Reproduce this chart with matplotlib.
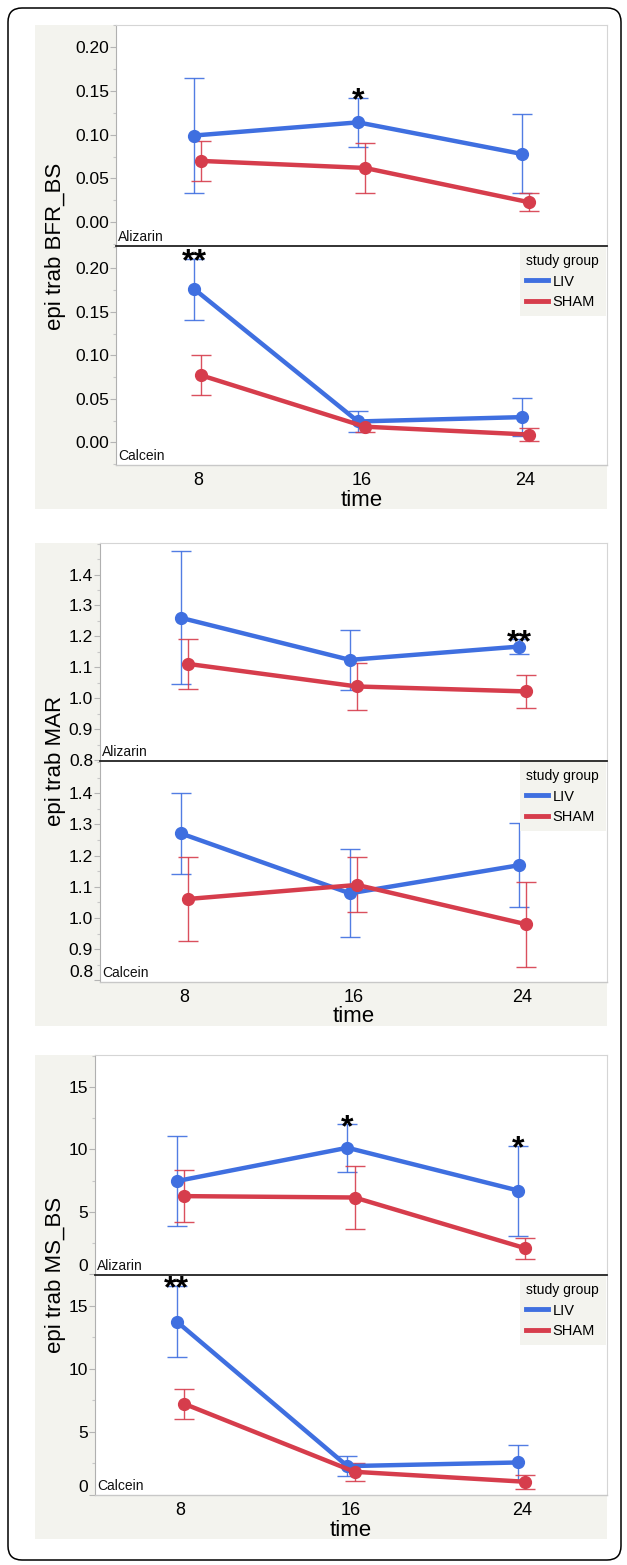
import matplotlib
matplotlib.use('Agg')
import matplotlib.pyplot as plt
from matplotlib.patches import FancyBboxPatch, Rectangle
from matplotlib.lines import Line2D
from matplotlib.ticker import MultipleLocator, FormatStrFormatter

plt.rcParams['font.family'] = ['Liberation Sans', 'DejaVu Sans']

# ---------------- data ----------------
times = [8, 16, 24]
groups = ['LIV', 'SHAM']

bfr_aliz_liv = [0.099, 0.114, 0.078]
bfr_aliz_liv_err = [0.065, 0.028, 0.045]
bfr_aliz_sham = [0.070, 0.062, 0.023]
bfr_aliz_sham_err = [0.023, 0.028, 0.0105]
bfr_calc_liv = [0.176, 0.024, 0.029]
bfr_calc_liv_err = [0.035, 0.012, 0.022]
bfr_calc_sham = [0.077, 0.018, 0.009]
bfr_calc_sham_err = [0.023, 0.0065, 0.008]

mar_aliz_liv = [1.260, 1.124, 1.167]
mar_aliz_liv_err = [0.215, 0.097, 0.024]
mar_aliz_sham = [1.111, 1.038, 1.022]
mar_aliz_sham_err = [0.082, 0.075, 0.054]
mar_calc_liv = [1.271, 1.079, 1.169]
mar_calc_liv_err = [0.130, 0.141, 0.134]
mar_calc_sham = [1.061, 1.106, 0.980]
mar_calc_sham_err = [0.134, 0.088, 0.136]

ms_aliz_liv = [7.46, 10.13, 6.71]
ms_aliz_liv_err = [3.6, 1.9, 3.6]
ms_aliz_sham = [6.26, 6.15, 2.09]
ms_aliz_sham_err = [2.1, 2.55, 0.83]
ms_calc_liv = [13.76, 2.29, 2.58]
ms_calc_liv_err = [2.84, 0.8, 1.4]
ms_calc_sham = [7.24, 1.84, 1.05]
ms_calc_sham_err = [1.2, 0.72, 0.55]

# significance marks: (time, label) above LIV error bar
bfr_aliz_sig = [(16, '*')]
bfr_calc_sig = [(8, '**')]
mar_aliz_sig = [(24, '**')]
mar_calc_sig = []
ms_aliz_sig = [(16, '*'), (24, '*')]
ms_calc_sig = [(8, '**')]

ylabels = ['epi trab BFR_BS', 'epi trab MAR', 'epi trab MS_BS']
stain_labels = ['Alizarin', 'Calcein']
xlabel = 'time'

# ---------------- style ----------------
W, H, DPI = 627, 1565, 100
BLUE = '#3F6FE0'
RED = '#D63D4C'
GRAY = '#F3F3EE'
colors = {'LIV': BLUE, 'SHAM': RED}
dodge = {'LIV': -0.17, 'SHAM': 0.17}

fig = plt.figure(figsize=(W / DPI, H / DPI), dpi=DPI)
bg = fig.add_axes([0, 0, 1, 1], zorder=-10)
bg.set_xlim(0, W)
bg.set_ylim(H, 0)
bg.axis('off')
bg.add_patch(FancyBboxPatch((8, 8), 613, 1552, boxstyle='round,pad=0,rounding_size=14',
                            fc='white', ec='black', lw=1.1))


def px_axes(x0, y0, x1, y1):
    return fig.add_axes([x0 / W, 1 - y1 / H, (x1 - x0) / W, (y1 - y0) / H])


panels = [
    dict(gray=(35, 25, 607, 509), px=(116, 607), top=(25, 246), bot=(246, 465),
         ylim_top=(-0.027, 0.225), ylim_bot=(-0.026, 0.2256),
         ticks=[0, 0.05, 0.10, 0.15, 0.20], minor=0.025, fmt='%.2f', lift=(False, False),
         data=[(bfr_aliz_liv, bfr_aliz_liv_err, bfr_aliz_sham, bfr_aliz_sham_err, bfr_aliz_sig),
               (bfr_calc_liv, bfr_calc_liv_err, bfr_calc_sham, bfr_calc_sham_err, bfr_calc_sig)],
         xl_y=500),
    dict(gray=(35, 543, 607, 1026), px=(100, 607), top=(543, 761), bot=(761, 982),
         ylim_top=(0.797, 1.502), ylim_bot=(0.795, 1.503),
         ticks=[0.8, 0.9, 1.0, 1.1, 1.2, 1.3, 1.4], minor=0.05, fmt='%.1f', lift=(False, True),
         data=[(mar_aliz_liv, mar_aliz_liv_err, mar_aliz_sham, mar_aliz_sham_err, mar_aliz_sig),
               (mar_calc_liv, mar_calc_liv_err, mar_calc_sham, mar_calc_sham_err, mar_calc_sig)],
         xl_y=1017),
    dict(gray=(35, 1055, 607, 1539), px=(95, 607), top=(1055, 1275), bot=(1275, 1495),
         ylim_top=(-0.05, 17.55), ylim_bot=(0.0, 17.45),
         ticks=[0, 5, 10, 15], minor=2.5, fmt='%d', lift=(True, True),
         data=[(ms_aliz_liv, ms_aliz_liv_err, ms_aliz_sham, ms_aliz_sham_err, ms_aliz_sig),
               (ms_calc_liv, ms_calc_liv_err, ms_calc_sham, ms_calc_sham_err, ms_calc_sig)],
         xl_y=1531),
]

for pi, P in enumerate(panels):
    gx0, gy0, gx1, gy1 = P['gray']
    bg.add_patch(Rectangle((gx0, gy0), gx1 - gx0, gy1 - gy0, fc=GRAY, ec='none'))
    x0, x1 = P['px']
    for si, (yr, ylim) in enumerate([(P['top'], P['ylim_top']), (P['bot'], P['ylim_bot'])]):
        ax = px_axes(x0, yr[0], x1, yr[1])
        ax.set_facecolor('white')
        liv, liv_e, sham, sham_e, sig = P['data'][si]
        for g, vals, errs in [('LIV', liv, liv_e), ('SHAM', sham, sham_e)]:
            xs = [t + dodge[g] for t in times]
            ax.errorbar(xs, vals, yerr=errs, fmt='none', ecolor=colors[g], elinewidth=1.0,
                        capsize=7, capthick=1.0, zorder=2, alpha=0.9)
            ax.plot(xs, vals, '-o', color=colors[g], lw=3.2, ms=8.5, zorder=3,
                    solid_capstyle='round')
        for t, lab in sig:
            i = times.index(t)
            ax.annotate(lab, (t + dodge['LIV'], liv[i] + liv_e[i]), xytext=(0, -8.5),
                        textcoords='offset points', ha='center', va='baseline',
                        fontsize=23, fontweight='bold', color='black', zorder=6,
                        annotation_clip=False)
        ax.set_xlim(4, 28)
        ax.set_ylim(*ylim)
        ax.set_yticks(P['ticks'])
        ax.yaxis.set_major_formatter(FormatStrFormatter(P['fmt']))
        ax.yaxis.set_minor_locator(MultipleLocator(P['minor']))
        ax.tick_params(axis='y', which='major', length=4, width=0.8, color='#b5b5b5',
                       labelsize=12.5, pad=1)
        ax.tick_params(axis='y', which='minor', length=2.5, width=0.8, color='#c8c8c8')
        ax.set_xticks(times)
        ax.tick_params(axis='x', length=0, labelsize=13, pad=5)
        if si == 0:
            ax.tick_params(axis='x', labelbottom=False)
        for s in ['top', 'right']:
            ax.spines[s].set_color('#d5d5d5')
            ax.spines[s].set_linewidth(0.8)
        ax.spines['left'].set_color('#b0b0b0')
        ax.spines['left'].set_linewidth(0.8)
        if si == 0:
            ax.spines['bottom'].set_color('#222222')
            ax.spines['bottom'].set_linewidth(1.3)
            ax.set_zorder(2)
        else:
            ax.spines['bottom'].set_color('#c8c8c8')
            ax.spines['bottom'].set_linewidth(1.0)
            ax.spines['top'].set_visible(False)
        if P['lift'][si]:
            ax.yaxis.get_major_ticks()[0].label1.set_verticalalignment('bottom')
        ax.text(0.004, 0.01, stain_labels[si], transform=ax.transAxes, ha='left', va='bottom',
                fontsize=10, color='#111111', zorder=7)
        if si == 1:
            handles = [Line2D([0], [0], color=colors[g], lw=3.5) for g in groups]
            leg = ax.legend(handles, groups, title='study group', loc='upper right',
                            bbox_to_anchor=(1.0, 1.0), borderaxespad=0.1, frameon=True,
                            fancybox=False, facecolor=GRAY, edgecolor='none', framealpha=1,
                            fontsize=10.5, title_fontsize=10, alignment='left',
                            handlelength=1.5, handletextpad=0.3, labelspacing=0.45,
                            borderpad=0.45)
            leg.set_zorder(8)
    mid_y = P['top'][1]
    fig.text(56 / W, 1 - mid_y / H, ylabels[pi], rotation=90, ha='center', va='center',
             fontsize=16)
    fig.text(((x0 + x1) / 2) / W, 1 - P['xl_y'] / H, xlabel, ha='center', va='center',
             fontsize=16)

fig.savefig('out.png', dpi=DPI)
